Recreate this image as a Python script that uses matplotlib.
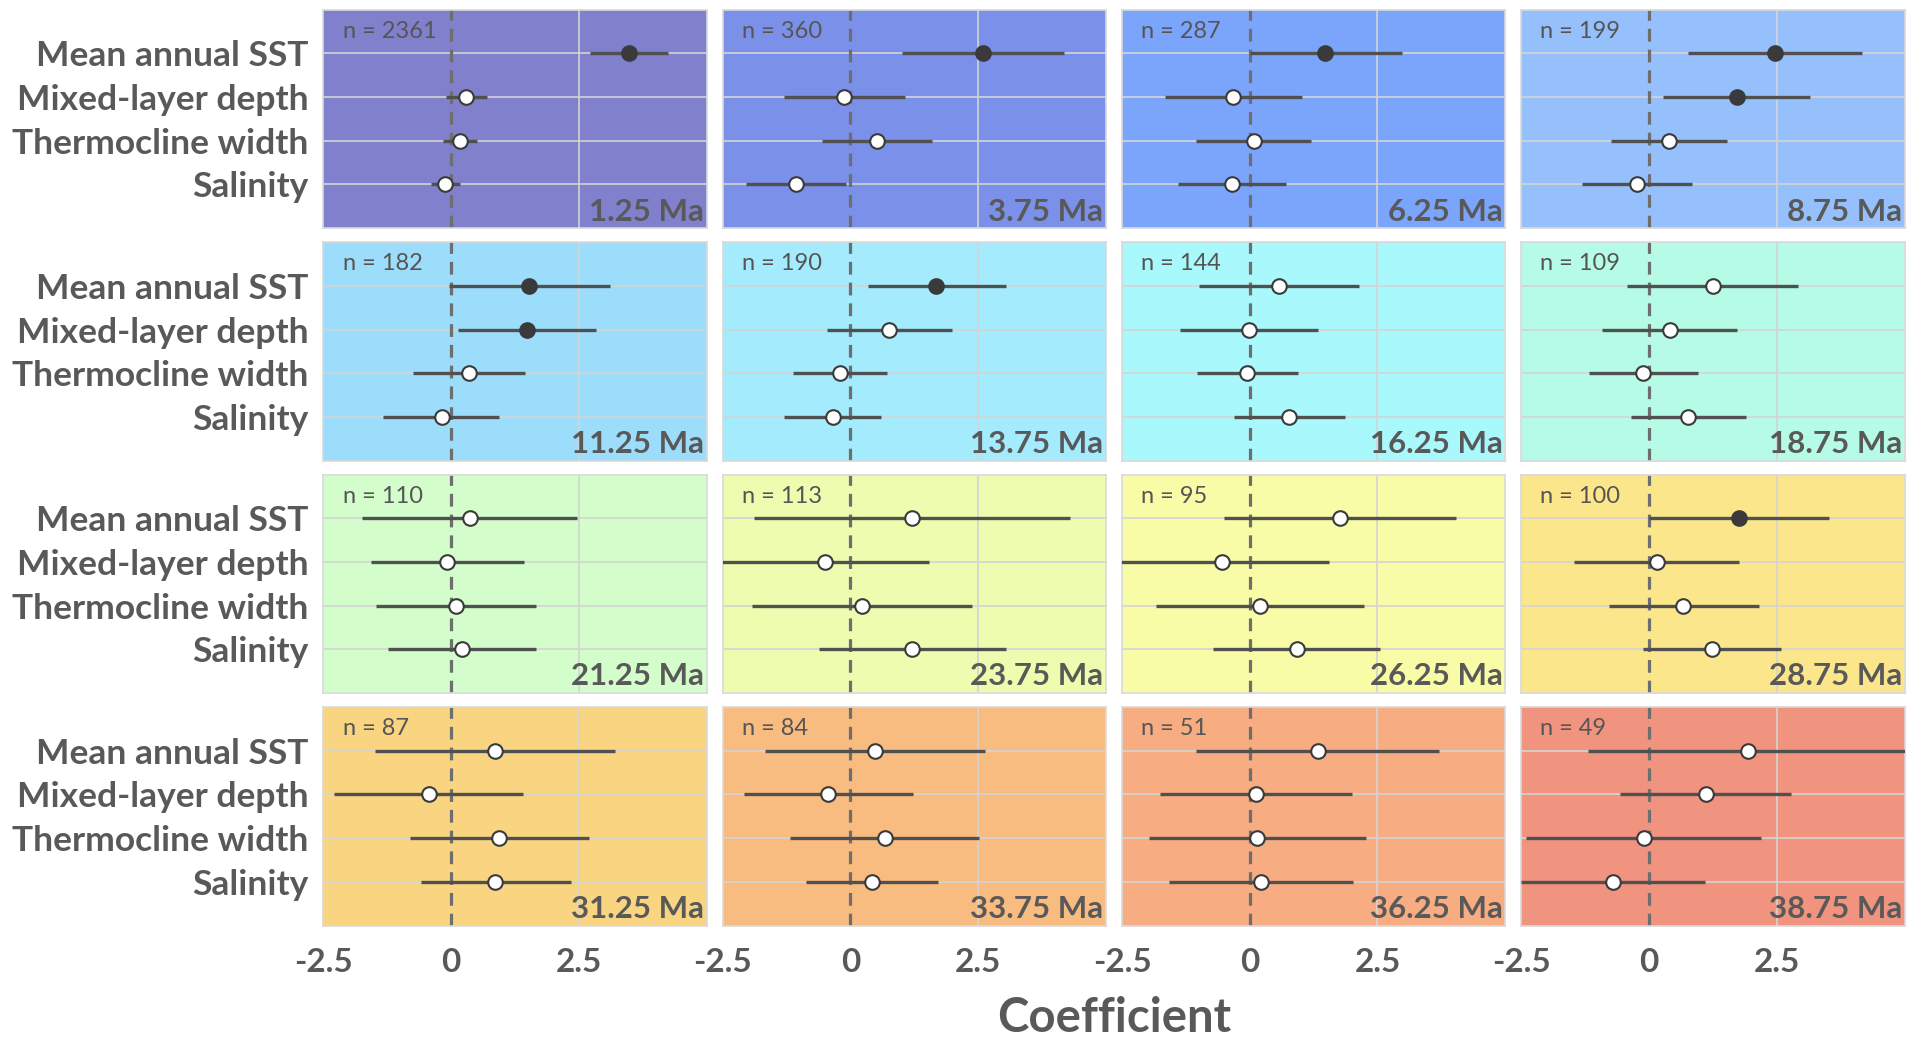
import matplotlib
matplotlib.use("Agg")
import matplotlib.pyplot as plt

plt.rcParams['font.family'] = ['Lato', 'DejaVu Sans']

# ---- data ----
predictors = ['Mean annual SST', 'Mixed-layer depth', 'Thermocline width', 'Salinity']
ages = ['1.25 Ma', '3.75 Ma', '6.25 Ma', '8.75 Ma',
        '11.25 Ma', '13.75 Ma', '16.25 Ma', '18.75 Ma',
        '21.25 Ma', '23.75 Ma', '26.25 Ma', '28.75 Ma',
        '31.25 Ma', '33.75 Ma', '36.25 Ma', '38.75 Ma']
n_obs = [2361, 360, 287, 199, 182, 190, 144, 109,
         110, 113, 95, 100, 87, 84, 51, 49]

# coefficient estimates, per time slice: SST, MLD, thermocline, salinity
estimate = [
    [3.49, 0.29, 0.17, -0.13],
    [2.59, -0.12, 0.52, -1.06],
    [1.47, -0.32, 0.09, -0.35],
    [2.47, 1.73, 0.39, -0.24],
    [1.53, 1.49, 0.35, -0.18],
    [1.68, 0.76, -0.21, -0.35],
    [0.57, -0.02, -0.05, 0.77],
    [1.25, 0.41, -0.12, 0.77],
    [0.36, -0.08, 0.10, 0.22],
    [1.20, -0.50, 0.22, 1.21],
    [1.76, -0.54, 0.20, 0.92],
    [1.76, 0.15, 0.67, 1.24],
    [0.85, -0.44, 0.94, 0.86],
    [0.48, -0.43, 0.67, 0.42],
    [1.33, 0.12, 0.15, 0.22],
    [1.93, 1.11, -0.10, -0.71],
]
lower = [
    [2.71, -0.11, -0.15, -0.40],
    [1.01, -1.31, -0.55, -2.05],
    [0.00, -1.65, -1.06, -1.40],
    [0.77, 0.28, -0.75, -1.32],
    [-0.05, 0.13, -0.74, -1.33],
    [0.34, -0.46, -1.13, -1.30],
    [-0.99, -1.37, -1.04, -0.30],
    [-0.43, -0.93, -1.18, -0.35],
    [-1.75, -1.57, -1.47, -1.23],
    [-1.89, -2.60, -1.92, -0.62],
    [-0.51, -2.60, -1.84, -0.72],
    [0.00, -1.47, -0.79, -0.11],
    [-1.49, -2.29, -0.81, -0.60],
    [-1.68, -2.08, -1.18, -0.87],
    [-1.05, -1.75, -1.97, -1.59],
    [-1.20, -0.56, -2.40, -2.50],
]
upper = [
    [4.25, 0.70, 0.50, 0.17],
    [4.17, 1.06, 1.59, -0.08],
    [2.97, 1.02, 1.20, 0.70],
    [4.17, 3.15, 1.53, 0.85],
    [3.10, 2.84, 1.44, 0.94],
    [3.05, 1.98, 0.72, 0.60],
    [2.13, 1.33, 0.94, 1.86],
    [2.92, 1.73, 0.95, 1.89],
    [2.47, 1.43, 1.67, 1.66],
    [4.30, 1.53, 2.38, 3.05],
    [4.03, 1.55, 2.24, 2.55],
    [3.53, 1.77, 2.15, 2.59],
    [3.21, 1.41, 2.69, 2.34],
    [2.63, 1.22, 2.52, 1.71],
    [3.71, 2.01, 2.27, 2.03],
    [5.10, 2.78, 2.20, 1.09],
]
# 1 = interval excludes zero (filled marker)
significant = [
    [1, 0, 0, 0], [1, 0, 0, 0], [1, 0, 0, 0], [1, 1, 0, 0],
    [1, 1, 0, 0], [1, 0, 0, 0], [0, 0, 0, 0], [0, 0, 0, 0],
    [0, 0, 0, 0], [0, 0, 0, 0], [0, 0, 0, 0], [1, 0, 0, 0],
    [0, 0, 0, 0], [0, 0, 0, 0], [0, 0, 0, 0], [0, 0, 0, 0],
]
panel_colors = ['#8080CD', '#7B90E8', '#7BA5FB', '#96C0FC',
                '#9CDDFB', '#A3EBFD', '#A8F8FC', '#B5FBE5',
                '#D3FDCB', '#EDFDB0', '#F9FCA6', '#FBE68C',
                '#F9D581', '#F9BC80', '#F7AC82', '#F0937F']

text_col = '#595959'
ypos = [3, 2, 1, 0]

fig, axes = plt.subplots(4, 4, figsize=(19.07, 10.42), dpi=100,
                         sharex=True, sharey=True)
fig.subplots_adjust(left=0.1696, right=0.9987, top=0.9907, bottom=0.1118,
                    wspace=0.042, hspace=0.064)

for i, ax in enumerate(axes.flat):
    ax.set_facecolor(panel_colors[i])
    ax.set_xlim(-2.5, 5)
    ax.set_ylim(-1, 4)
    for y in ypos:
        ax.axhline(y, color='#D4D4D4', lw=1.2, zorder=1)
    ax.axvline(2.5, color='#D4D4D4', lw=1.2, zorder=1)
    ax.axvline(0, color='#6E6E6E', lw=2.3, ls=(0, (4, 2.5)), zorder=2)

    for j, y in enumerate(ypos):
        ax.plot([lower[i][j], upper[i][j]], [y, y], color='#505050',
                lw=2.4, zorder=3, solid_capstyle='butt')
        face = '#3A3A3A' if significant[i][j] else 'white'
        ax.plot(estimate[i][j], y, 'o', ms=10.5, mfc=face, mec='#3A3A3A',
                mew=1.5, zorder=4)

    ax.text(0.05, 0.9, 'n = %d' % n_obs[i], transform=ax.transAxes,
            fontsize=17, color='#555555', va='center', ha='left')
    ax.text(0.993, 0.012, ages[i], transform=ax.transAxes, fontsize=22.5,
            fontweight='bold', color=text_col, ha='right', va='bottom')

    for s in ax.spines.values():
        s.set_color('#D9D9D9')
        s.set_linewidth(1.2)
    ax.tick_params(length=0)

axes[0, 0].set_yticks(ypos)
axes[0, 0].set_yticklabels(predictors)
axes[0, 0].set_xticks([-2.5, 0, 2.5])
axes[0, 0].set_xticklabels(['-2.5', '0', '2.5'])
for ax in axes.flat:
    ax.tick_params(axis='y', pad=11, labelsize=25.5, labelcolor=text_col)
    ax.tick_params(axis='x', pad=16, labelsize=24, labelcolor=text_col)
    for lab in ax.get_yticklabels() + ax.get_xticklabels():
        lab.set_fontweight('bold')

fig.text(0.584, 0.002, 'Coefficient', ha='center', va='bottom',
         fontsize=34, fontweight='bold', color=text_col)

fig.savefig('out.png', dpi=100)
